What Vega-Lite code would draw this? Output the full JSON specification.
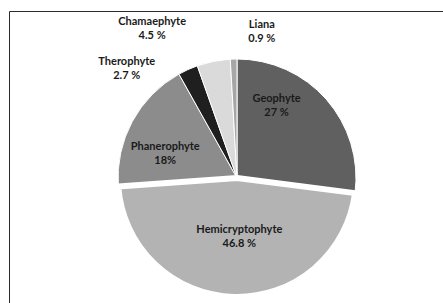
{
  "$schema": "https://vega.github.io/schema/vega-lite/v6.json",
  "width": 456,
  "height": 334,
  "autosize": {"type": "none"},
  "padding": {"left": 9, "top": 11, "right": 0, "bottom": 0},
  "background": "white",
  "view": {"stroke": "#2b2b2b", "strokeWidth": 1, "fill": "white"},
  "data": {
    "values": [
      {"i": 1, "type": "Geophyte", "pct": 27, "label": "Geophyte\n27 %"},
      {"i": 2, "type": "Hemicryptophyte", "pct": 46.8, "label": "Hemicryptophyte\n46.8 %"},
      {"i": 3, "type": "Phanerophyte", "pct": 18, "label": "Phanerophyte\n18%"},
      {"i": 4, "type": "Therophyte", "pct": 2.7, "label": "Therophyte\n2.7 %"},
      {"i": 5, "type": "Chamaephyte", "pct": 4.5, "label": "Chamaephyte\n4.5 %"},
      {"i": 6, "type": "Liana", "pct": 0.9, "label": "Liana\n0.9 %"}
    ]
  },
  "encoding": {
    "theta": {"field": "pct", "type": "quantitative", "stack": true},
    "order": {"field": "i", "type": "quantitative"},
    "detail": {"field": "type", "type": "nominal"}
  },
  "layer": [
    {
      "mark": {"type": "arc", "radius": 119, "stroke": "white", "strokeWidth": 1},
      "encoding": {
        "color": {
          "field": "type", "type": "nominal", "legend": null,
          "scale": {
            "domain": ["Geophyte", "Hemicryptophyte", "Phanerophyte", "Therophyte", "Chamaephyte", "Liana"],
            "range": ["#606060", "#b3b3b3", "#8c8c8c", "#1f1f1f", "#dadada", "#a6a6a6"]
          }
        }
      }
    },
    {
      "mark": {"type": "arc", "radius": 119, "stroke": "white", "strokeWidth": 6, "strokeJoin": "round"},
      "encoding": {
        "color": {
          "field": "type", "type": "nominal", "legend": null,
          "scale": {
            "domain": ["Geophyte", "Hemicryptophyte", "Phanerophyte", "Therophyte", "Chamaephyte", "Liana"],
            "range": ["#606060", "#b3b3b3", "#8c8c8c", "#1f1f1f", "#dadada", "#a6a6a6"]
          }
        },
        "opacity": {"condition": {"test": "datum.type === 'Hemicryptophyte'", "value": 1}, "value": 0}
      }
    },
    {
      "mark": {"type": "text", "radius": 82, "dx": -22, "dy": -25, "lineBreak": "\n", "font": "Lato", "fontWeight": "bold", "fontSize": 11, "lineHeight": 14, "align": "center", "baseline": "middle", "fill": "#1a1a1a"},
      "encoding": {"text": {"condition": {"test": "datum.type === 'Geophyte'", "field": "label"}, "value": ""}}
    },
    {
      "mark": {"type": "text", "radius": 59, "dx": 4, "dy": -7, "lineBreak": "\n", "font": "Lato", "fontWeight": "bold", "fontSize": 11, "lineHeight": 14, "align": "center", "baseline": "middle", "fill": "#1a1a1a"},
      "encoding": {"text": {"condition": {"test": "datum.type === 'Hemicryptophyte'", "field": "label"}, "value": ""}}
    },
    {
      "mark": {"type": "text", "radius": 77, "dx": -4, "dy": 6, "lineBreak": "\n", "font": "Lato", "fontWeight": "bold", "fontSize": 11, "lineHeight": 14, "align": "center", "baseline": "middle", "fill": "#1a1a1a"},
      "encoding": {"text": {"condition": {"test": "datum.type === 'Phanerophyte'", "field": "label"}, "value": ""}}
    },
    {
      "mark": {"type": "text", "radius": 156, "dx": -46, "dy": 26, "lineBreak": "\n", "font": "Lato", "fontWeight": "bold", "fontSize": 11, "lineHeight": 14, "align": "center", "baseline": "middle", "fill": "#1a1a1a"},
      "encoding": {"text": {"condition": {"test": "datum.type === 'Therophyte'", "field": "label"}, "value": ""}}
    },
    {
      "mark": {"type": "text", "radius": 172, "dx": -51, "dy": 13, "lineBreak": "\n", "font": "Lato", "fontWeight": "bold", "fontSize": 11, "lineHeight": 14, "align": "center", "baseline": "middle", "fill": "#1a1a1a"},
      "encoding": {"text": {"condition": {"test": "datum.type === 'Chamaephyte'", "field": "label"}, "value": ""}}
    },
    {
      "mark": {"type": "text", "radius": 148, "dx": 29, "dy": -5, "lineBreak": "\n", "font": "Lato", "fontWeight": "bold", "fontSize": 11, "lineHeight": 14, "align": "center", "baseline": "middle", "fill": "#1a1a1a"},
      "encoding": {"text": {"condition": {"test": "datum.type === 'Liana'", "field": "label"}, "value": ""}}
    }
  ]
}
